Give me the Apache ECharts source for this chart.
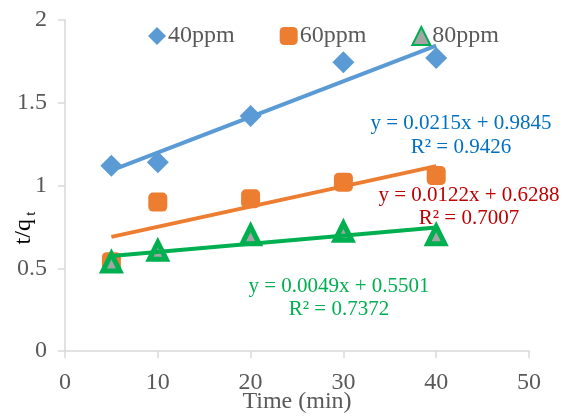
<!DOCTYPE html>
<html>
<head>
<meta charset="utf-8">
<script src="https://cdn.jsdelivr.net/npm/echarts@6/dist/echarts.min.js"></script>
<style>html,body{margin:0;padding:0;background:#fff}#c{width:564px;height:417px}</style>
</head>
<body>
<div id="c"></div>
<script>
// Data
var times = [5, 10, 20, 30, 40];
var ppm40 = [1.12, 1.14, 1.42, 1.745, 1.77];
var ppm60 = [0.54, 0.90, 0.92, 1.02, 1.06];
var ppm80 = [0.535, 0.605, 0.70, 0.72, 0.70];
var seriesNames = ['40ppm', '60ppm', '80ppm'];
// Linear trendlines (slope, intercept) as printed on the chart
var slopes = [0.0215, 0.0122, 0.0049];
var intercepts = [0.9845, 0.6288, 0.5501];
var r2 = ['0.9426', '0.7007', '0.7372'];
var trendRange = [5, 40];
var xTicks = [0, 10, 20, 30, 40, 50];
var yTicks = [0, 0.5, 1, 1.5, 2];

var colors = ['#5b9bd5', '#ed7d31', '#00b050'];
var eqColors = ['#0070c0', '#c00000', '#00b050'];
var font = '"Liberation Serif", "Times New Roman", serif';

function pts(vals) { return times.map(function (t, i) { return [t, vals[i]]; }); }
function trend(k) {
  return trendRange.map(function (x) { return [x, +(slopes[k] * x + intercepts[k]).toFixed(4)]; });
}

var chart = echarts.init(document.getElementById('c'), null, { renderer: 'canvas' });
var axisGray = '#d9d9d9';
var labelGray = '#595959';

chart.setOption({
  animation: false,
  backgroundColor: '#ffffff',
  grid: { left: 65, right: 35, top: 20, bottom: 66, containLabel: false, outerBoundsMode: 'none' },
  legend: {
    data: [
      { name: seriesNames[0], icon: 'diamond' },
      { name: seriesNames[1], icon: 'roundRect' },
      { name: seriesNames[2], icon: 'triangle' }
    ],
    left: 143, top: 19, itemWidth: 18, itemHeight: 18, itemGap: 45,
    textStyle: { fontFamily: font, fontSize: 24, color: labelGray, padding: [0, 0, 0, -3] }
  },
  xAxis: {
    type: 'value', min: xTicks[0], max: xTicks[xTicks.length - 1], interval: 10,
    name: 'Time (min)', nameLocation: 'middle', nameGap: 39, nameMoveOverlap: false,
    nameTextStyle: { fontFamily: font, fontSize: 24, color: labelGray },
    axisLine: { show: true, lineStyle: { color: axisGray, width: 1.5 } },
    axisTick: { show: true, length: 7, lineStyle: { color: axisGray, width: 1.5 } },
    axisLabel: { fontFamily: font, fontSize: 24, color: labelGray, margin: 20 },
    splitLine: { show: false }
  },
  yAxis: {
    type: 'value', min: yTicks[0], max: yTicks[yTicks.length - 1], interval: 0.5,
    axisLine: { show: true, lineStyle: { color: axisGray, width: 1.5 } },
    axisTick: { show: true, length: 7, lineStyle: { color: axisGray, width: 1.5 } },
    axisLabel: { fontFamily: font, fontSize: 24, color: labelGray, margin: 18 },
    splitLine: { show: false }
  },
  graphic: [
    {
      type: 'text', x: 24, y: 228, rotation: Math.PI / 2,
      style: {
        text: '{m|t/q} {s|t}', align: 'center', verticalAlign: 'middle',
        rich: {
          m: { fontFamily: font, fontSize: 24, color: labelGray, lineHeight: 30 },
          s: { fontFamily: font, fontSize: 15, color: labelGray, lineHeight: 14, verticalAlign: 'bottom' }
        }
      }
    },
    {
      type: 'text', x: 461, y: 135,
      style: { text: 'y = ' + slopes[0] + 'x + ' + intercepts[0] + '\nR² = ' + r2[0], align: 'center', verticalAlign: 'middle',
        fontFamily: font, fontSize: 21, lineHeight: 24, fill: eqColors[0] }
    },
    {
      type: 'text', x: 469, y: 207,
      style: { text: 'y = ' + slopes[1] + 'x + ' + intercepts[1] + '\nR² = ' + r2[1], align: 'center', verticalAlign: 'middle',
        fontFamily: font, fontSize: 21, lineHeight: 23, fill: eqColors[1] }
    },
    {
      type: 'text', x: 339, y: 298,
      style: { text: 'y = ' + slopes[2] + 'x + ' + intercepts[2] + '\nR² = ' + r2[2], align: 'center', verticalAlign: 'middle',
        fontFamily: font, fontSize: 21, lineHeight: 23, fill: eqColors[2] }
    }
  ],
  series: [
    { name: seriesNames[0], type: 'scatter', data: pts(ppm40), symbol: 'diamond', symbolSize: 22,
      itemStyle: { color: colors[0], opacity: 1 }, z: 2 },
    { name: seriesNames[1], type: 'scatter', data: pts(ppm60), symbol: 'roundRect', symbolSize: 19,
      itemStyle: { color: colors[1], opacity: 1 }, z: 2 },
    { name: seriesNames[2], type: 'scatter', data: pts(ppm80), symbol: 'triangle', symbolSize: 17,
      itemStyle: { color: '#a5a5a5', borderColor: colors[2], borderWidth: 5, opacity: 1 }, z: 2 },
    { name: 't40', type: 'line', data: trend(0), symbol: 'none', silent: true, z: 3,
      lineStyle: { color: colors[0], width: 4 } },
    { name: 't60', type: 'line', data: trend(1), symbol: 'none', silent: true, z: 3,
      lineStyle: { color: colors[1], width: 4 } },
    { name: 't80', type: 'line', data: trend(2), symbol: 'none', silent: true, z: 3,
      lineStyle: { color: colors[2], width: 4 } }
  ]
});
</script>
</body>
</html>
